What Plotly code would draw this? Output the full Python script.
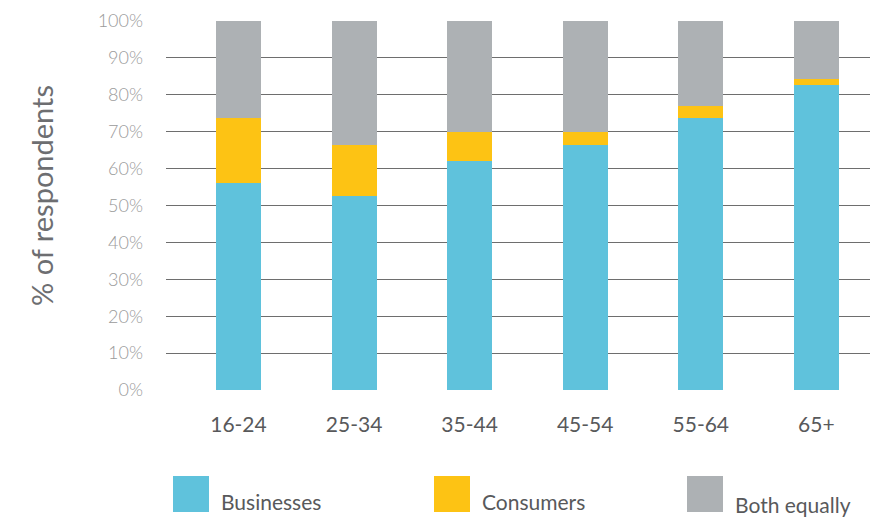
import plotly.graph_objects as go

age_groups = ["16-24", "25-34", "35-44", "45-54", "55-64", "65+"]
businesses = [56.1, 52.7, 62.1, 66.4, 73.8, 82.7]
consumers = [17.7, 13.7, 7.9, 3.6, 3.2, 1.6]
both_equally = [26.2, 33.6, 30.0, 30.0, 23.0, 15.7]
series_names = ["Businesses", "Consumers", "Both equally"]
series_colors = ["#5fc2dc", "#fdc314", "#adb1b4"]
y_ticks = list(range(0, 101, 10))

fig = go.Figure()
for name, vals, col in zip(series_names, [businesses, consumers, both_equally], series_colors):
    fig.add_trace(go.Bar(x=age_groups, y=vals, name=name, marker_color=col,
                         marker_line_width=0, width=0.39, showlegend=False))

# plot area on the page (browser body adds an 8px offset)
PL, PR, PT, PB = 166, 870, 21, 390
PW, PH = PR - PL, PB - PT

def px(x):
    return (x - PL) / PW

def py(y):
    return (PB - y) / PH

# hand-made legend below the plot (big square swatches)
legend_x = [173, 434, 687]
legend_dy = [0, 0, 3]
for name, col, lx, dy in zip(series_names, series_colors, legend_x, legend_dy):
    fig.add_shape(type="rect", xref="paper", yref="paper", x0=px(lx), x1=px(lx + 36),
                  y0=py(512), y1=py(476), fillcolor=col, line_width=0)
    fig.add_annotation(text=name, xref="paper", yref="paper",
                       x=px(lx + 46), xanchor="left",
                       y=py(501 + dy), yanchor="middle", showarrow=False,
                       font=dict(family="Lato", size=21, color="#58595b"))

fig.add_annotation(text="% of respondents", xref="paper", yref="paper",
                   x=px(41), y=py(196), textangle=-90, showarrow=False,
                   xanchor="center", yanchor="middle",
                   font=dict(family="Lato", size=29, color="#6d6e71"))

fig.update_layout(
    barmode="stack",
    width=893 - 8, height=518 - 8,
    margin=dict(l=PL - 8, r=893 - 8 - (PR - 8), t=PT - 8, b=518 - 8 - (PB - 8)),
    plot_bgcolor="white", paper_bgcolor="white",
    font=dict(family="Lato"),
    xaxis=dict(range=[-0.627, 5.464], showgrid=False, showline=False, zeroline=False,
               ticks="", ticklabelstandoff=20,
               tickfont=dict(family="Lato", size=21, color="#58595b")),
    yaxis=dict(range=[0, 100], tickvals=y_ticks, ticktext=[f"{v}%" for v in y_ticks],
               showgrid=True, gridcolor="#6e6e6e", gridwidth=1.3, zeroline=False,
               showline=False, ticks="", ticklabelstandoff=22,
               tickfont=dict(family="Lato", size=18, color="#9a9a9a", weight=300),
               automargin=False),
)

fig.write_html("out.html")
